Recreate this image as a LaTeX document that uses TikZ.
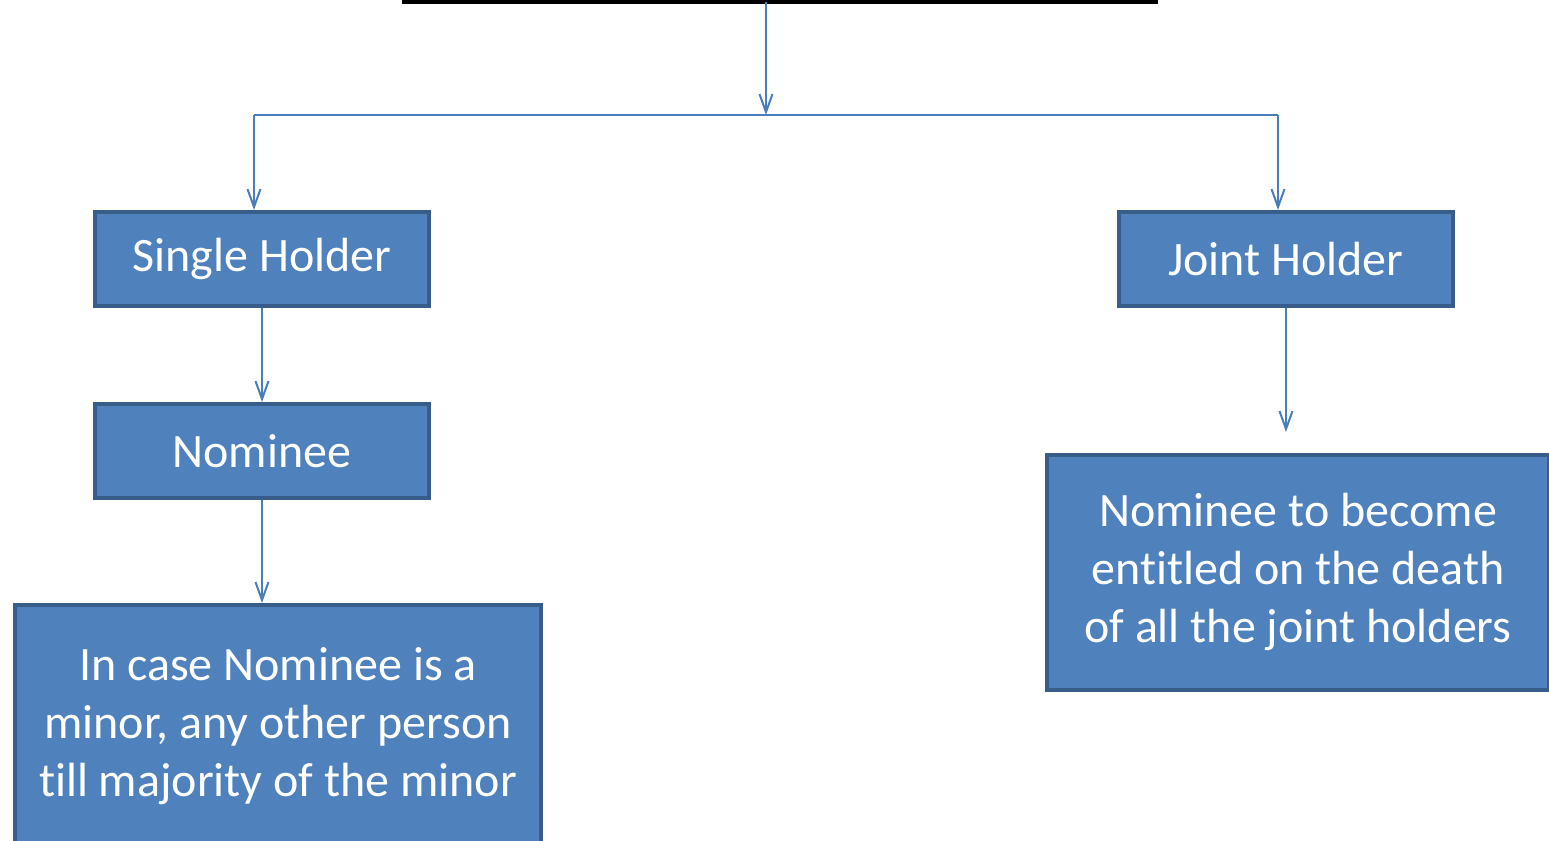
\documentclass[tikz,border=0pt]{standalone}
\usepackage{fontspec}
\setmainfont{Carlito}[Ligatures=NoCommon]
\usepackage{xcolor}
\usepackage{tikz}
\usetikzlibrary{arrows.meta,positioning,calc}

\definecolor{boxfill}{HTML}{4F81BD}
\definecolor{boxline}{HTML}{385D8A}
\definecolor{linkblue}{HTML}{4A7EBB}

\begin{document}
\begin{tikzpicture}[x=0.5pt, y=-0.5pt,
    box/.style={rectangle, draw=boxline, fill=boxfill, line width=2pt, inner sep=0pt,
        text=white, font=\fontsize{24}{29}\selectfont, align=center},
    arrow/.style={-{Straight Barb[length=9pt,width=6.5pt]}, linkblue, line width=1pt}
]
    \useasboundingbox (0,0) rectangle (1549,841);
    \clip (0,0) rectangle (1549,841);

    % Title rule
    \coordinate (topL) at (402,2);
    \coordinate (topR) at (1158,2);
    \coordinate (topM) at (766,2);
    \draw[line width=2pt, black] (topL) -- (topR);

    % Split
    \coordinate (split) at (766,115);
    \coordinate (lcorner) at (254,115);
    \coordinate (rcorner) at (1278,115);

    % Single holder side
    \node[box, minimum width=167pt, minimum height=47pt] (single) at (262,259) {Single Holder};
    \node[box, minimum width=167pt, minimum height=47pt] (nominee) at (262,451) {Nominee};
    \node[box, minimum width=263pt, minimum height=121pt] (minor) at (278,726)
        {In case Nominee is a\\ minor, any other person\\ till majority of the minor};

    % Joint holder side
    \node[box, minimum width=167pt, minimum height=47pt] (joint) at (1286,259) {Joint Holder};
    \node[box, minimum width=251pt, minimum height=117.5pt] (entitled) at (1298,572)
        {Nominee to become\\ entitled on the death\\ of all the joint holders};
    \coordinate (jointend) at (1286,432);

    % Arrows
    \draw[arrow] (topM) -- (split);
    \draw[linkblue, line width=1pt] (lcorner) -- (rcorner);
    \draw[arrow] (lcorner) -- (lcorner |- single.north);
    \draw[arrow] (rcorner) -- (rcorner |- joint.north);
    \draw[arrow] (single) -- (nominee);
    \draw[arrow] (nominee.south) -- (nominee.south |- minor.north);
    \draw[arrow] (joint) -- (jointend);
\end{tikzpicture}
\end{document}
